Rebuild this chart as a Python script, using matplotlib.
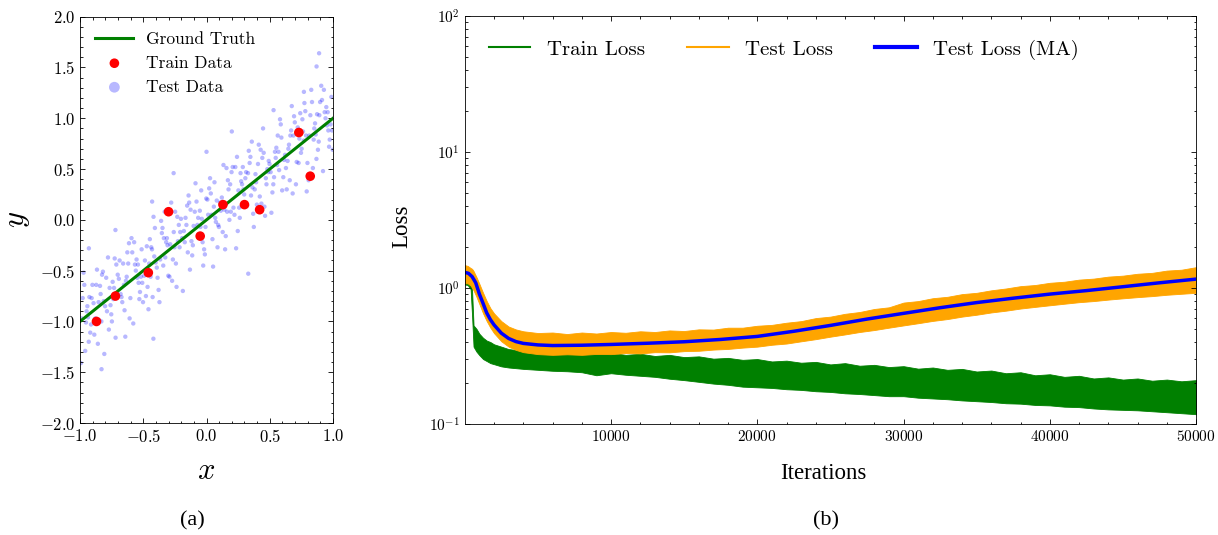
import matplotlib
matplotlib.use("Agg")
import matplotlib.pyplot as plt
from matplotlib.ticker import MultipleLocator

plt.rcParams.update({
    "font.family": "serif",
    "font.serif": ["cmr10"],
    "mathtext.fontset": "cm",
    "axes.formatter.use_mathtext": True,
    "axes.unicode_minus": True,
    "axes.linewidth": 0.6,
    "xtick.direction": "in", "ytick.direction": "in",
    "xtick.top": True, "ytick.right": True,
    "xtick.minor.visible": True, "ytick.minor.visible": True,
    "xtick.major.size": 3.5, "ytick.major.size": 3.5,
    "xtick.minor.size": 1.8, "ytick.minor.size": 1.8,
    "xtick.major.width": 0.6, "ytick.major.width": 0.6,
    "xtick.minor.width": 0.6, "ytick.minor.width": 0.6,
    "legend.frameon": False,
})

# ---- panel (a): regression data ----
train_x = [-0.87, -0.72, -0.46, -0.30, -0.05, 0.13, 0.30, 0.42, 0.73, 0.82]
train_y = [-1.00, -0.75, -0.52, 0.08, -0.16, 0.15, 0.15, 0.10, 0.86, 0.43]

truth_x = [-1.0, 1.0]
truth_y = [-1.0, 1.0]

test_x = [
    -0.993, -0.948, -0.979, -0.913, -0.966, -0.931, -0.987, -0.908, -0.953, -0.972, -0.919, -0.942, -0.959, -0.902, -0.937, -0.926,
    -0.837, -0.887, -0.802, -0.866, -0.848, -0.893, -0.826, -0.859, -0.813, -0.879, -0.842, -0.808, -0.872, -0.831, -0.853, -0.819,
    -0.759, -0.713, -0.772, -0.742, -0.708, -0.779, -0.753, -0.731, -0.793, -0.719, -0.766, -0.787, -0.726, -0.748, -0.702, -0.737,
    -0.693, -0.648, -0.679, -0.613, -0.666, -0.631, -0.687, -0.608, -0.653, -0.672, -0.619, -0.642, -0.659, -0.602, -0.637, -0.626,
    -0.537, -0.587, -0.502, -0.566, -0.548, -0.593, -0.526, -0.559, -0.513, -0.579, -0.542, -0.508, -0.572, -0.531, -0.553, -0.519,
    -0.459, -0.413, -0.472, -0.442, -0.408, -0.479, -0.453, -0.431, -0.493, -0.419, -0.466, -0.487, -0.426, -0.448, -0.402, -0.437,
    -0.393, -0.348, -0.379, -0.313, -0.366, -0.331, -0.387, -0.308, -0.353, -0.372, -0.319, -0.342, -0.359, -0.302, -0.337, -0.326,
    -0.237, -0.287, -0.202, -0.266, -0.248, -0.293, -0.226, -0.259, -0.213, -0.279, -0.242, -0.208, -0.272, -0.231, -0.253, -0.219,
    -0.159, -0.113, -0.172, -0.142, -0.108, -0.179, -0.153, -0.131, -0.193, -0.119, -0.166, -0.187, -0.126, -0.148, -0.102, -0.137,
    -0.093, -0.048, -0.079, -0.013, -0.066, -0.031, -0.087, -0.008, -0.053, -0.072, -0.019, -0.042, -0.059, -0.002, -0.037, -0.026,
    0.063, 0.013, 0.098, 0.034, 0.052, 0.007, 0.074, 0.041, 0.087, 0.021, 0.058, 0.092, 0.028, 0.069, 0.047, 0.081,
    0.141, 0.187, 0.128, 0.158, 0.192, 0.121, 0.147, 0.169, 0.107, 0.181, 0.134, 0.113, 0.174, 0.152, 0.198, 0.163,
    0.207, 0.252, 0.221, 0.287, 0.234, 0.269, 0.213, 0.292, 0.247, 0.228, 0.281, 0.258, 0.241, 0.298, 0.263, 0.274,
    0.363, 0.313, 0.398, 0.334, 0.352, 0.307, 0.374, 0.341, 0.387, 0.321, 0.358, 0.392, 0.328, 0.369, 0.347, 0.381,
    0.441, 0.487, 0.428, 0.458, 0.492, 0.421, 0.447, 0.469, 0.407, 0.481, 0.434, 0.413, 0.474, 0.452, 0.498, 0.463,
    0.507, 0.552, 0.521, 0.587, 0.534, 0.569, 0.513, 0.592, 0.547, 0.528, 0.581, 0.558, 0.541, 0.598, 0.563, 0.574,
    0.663, 0.613, 0.698, 0.634, 0.652, 0.607, 0.674, 0.641, 0.687, 0.621, 0.658, 0.692, 0.628, 0.669, 0.647, 0.681,
    0.741, 0.787, 0.728, 0.758, 0.792, 0.721, 0.747, 0.769, 0.707, 0.781, 0.734, 0.713, 0.774, 0.752, 0.798, 0.763,
    0.807, 0.852, 0.821, 0.887, 0.834, 0.869, 0.813, 0.892, 0.847, 0.828, 0.881, 0.858, 0.841, 0.898, 0.863, 0.874,
    0.963, 0.913, 0.998, 0.934, 0.952, 0.907, 0.974, 0.941, 0.987, 0.921, 0.958, 0.992, 0.928, 0.969, 0.947, 0.981,
    -0.83, 0.33, -0.42, 0.89, 0.00, -0.26, -0.43, -0.93, -0.72, 0.20, 0.53, 0.77, 0.87,
]
test_y = [
    -1.41, -0.90, -0.77, -1.03, -0.64, -1.20, -0.97, -0.77, -1.01, -0.52, -1.11, -0.85, -1.29, -0.64, -0.96, -0.76,
    -0.73, -1.13, -0.85, -0.49, -0.99, -0.82, -0.54, -1.22, -0.80, -0.97, -0.65, -1.32, -0.64, -1.00, -0.81, -0.51,
    -0.84, -0.44, -1.08, -0.61, -0.73, -0.37, -0.93, -0.67, -0.57, -1.16, -0.67, -0.90, -0.38, -1.00, -0.54, -0.78,
    -0.58, -0.89, -0.73, -0.23, -0.81, -0.56, -0.40, -0.97, -0.64, -0.76, -0.43, -1.15, -0.43, -0.77, -0.60, -0.32,
    -0.62, -0.32, -0.81, -0.44, -0.57, -0.18, -0.71, -0.50, -0.29, -1.02, -0.44, -0.62, -0.22, -0.78, -0.39, -0.56,
    -0.88, -0.36, -0.26, -0.56, -0.08, -0.75, -0.43, -0.29, -0.55, 0.03, -0.66, -0.40, -0.76, -0.19, -0.42, -0.27,
    -0.47, -0.08, -0.69, -0.18, -0.39, 0.08, -0.57, -0.25, -0.13, -0.81, -0.22, -0.45, -0.01, -0.55, -0.18, -0.37,
    -0.66, -0.24, 0.01, -0.39, 0.08, -0.56, -0.21, -0.12, -0.27, 0.17, -0.43, -0.12, -0.60, 0.03, -0.27, -0.05,
    -0.05, -0.35, -0.22, 0.24, -0.25, -0.11, 0.14, -0.49, -0.18, -0.21, 0.02, -0.70, 0.10, -0.32, -0.06, 0.17,
    0.08, -0.07, 0.18, -0.34, 0.02, -0.22, 0.36, -0.07, 0.09, -0.05, -0.29, 0.29, -0.18, 0.21, 0.01, -0.45,
    0.37, 0.05, -0.07, 0.26, -0.46, 0.20, -0.02, 0.05, -0.27, 0.31, 0.13, -0.05, 0.41, 0.02, -0.19, 0.19,
    0.10, 0.35, -0.12, 0.51, 0.08, 0.22, -0.29, 0.39, 0.17, 0.00, 0.54, 0.09, 0.30, -0.16, 0.47, 0.08,
    0.52, 0.29, 0.05, 0.52, -0.28, 0.46, 0.12, 0.30, -0.11, 0.52, 0.35, 0.12, 0.62, 0.25, 0.02, 0.38,
    0.32, 0.47, 0.15, 0.68, 0.24, 0.41, -0.07, 0.56, 0.45, 0.14, 0.77, 0.37, 0.46, 0.06, 0.62, 0.30,
    0.61, 0.47, 0.69, 0.13, 0.58, 0.23, 0.90, 0.41, 0.55, 0.50, 0.16, 0.74, 0.35, 0.66, 0.55, 0.04,
    0.47, 0.71, 0.27, 0.94, 0.42, 0.67, 0.07, 0.81, 0.61, 0.35, 0.99, 0.54, 0.67, 0.29, 0.83, 0.49,
    0.83, 0.59, 0.96, 0.30, 0.74, 0.42, 1.12, 0.58, 0.83, 0.64, 0.39, 1.02, 0.51, 0.88, 0.70, 0.26,
    1.05, 0.83, 0.56, 0.99, 0.28, 0.91, 0.66, 0.78, 0.35, 1.07, 0.80, 0.57, 1.15, 0.70, 0.56, 0.87,
    0.39, 0.90, 1.03, 0.77, 1.16, 0.60, 0.83, 1.03, 0.79, 1.28, 0.69, 0.95, 0.51, 1.16, 0.84, 1.04,
    0.88, 1.18, 0.69, 1.06, 0.93, 1.32, 0.79, 1.00, 1.21, 0.48, 1.06, 0.88, 1.28, 0.72, 1.11, 0.94,
    -1.47, -0.53, -1.17, 1.64, 0.67, 0.46, 0.18, -0.28, -0.10, 0.87, 1.08, 1.26, 1.51,
]

# ---- panel (b): loss curves (envelopes of the noisy curves) ----
env_iter = [0, 200, 400, 500, 600, 800, 1000, 1250, 1500, 1750, 2000, 2500, 3000, 3500, 4000,
            5000, 6000, 7000, 8000, 9000, 10000, 11000, 12000, 13000, 14000, 15000, 16000, 17000,
            18000, 19000, 20000, 21000, 22000, 23000, 24000, 25000, 26000, 27000, 28000, 29000,
            30000, 31000, 32000, 33000, 34000, 35000, 36000, 37000, 38000, 39000, 40000, 41000,
            42000, 43000, 44000, 45000, 46000, 47000, 48000, 49000, 50000]
train_low = [1.06, 1.05, 0.98, 0.62, 0.37, 0.34, 0.32, 0.30, 0.29, 0.28, 0.275, 0.265, 0.26, 0.257, 0.254,
             0.250, 0.246, 0.244, 0.240, 0.228, 0.236, 0.230, 0.226, 0.222, 0.215, 0.210, 0.204, 0.198,
             0.194, 0.188, 0.186, 0.184, 0.180, 0.178, 0.174, 0.172, 0.168, 0.166, 0.163, 0.160,
             0.160, 0.156, 0.154, 0.152, 0.149, 0.147, 0.145, 0.142, 0.141, 0.138, 0.137, 0.134,
             0.133, 0.130, 0.128, 0.127, 0.126, 0.124, 0.122, 0.120, 0.118]
train_high = [1.18, 1.16, 1.14, 0.95, 0.53, 0.50, 0.46, 0.43, 0.41, 0.40, 0.385, 0.37, 0.355, 0.35, 0.345,
              0.338, 0.345, 0.332, 0.336, 0.328, 0.334, 0.322, 0.328, 0.316, 0.322, 0.310, 0.314, 0.302,
              0.306, 0.296, 0.300, 0.288, 0.292, 0.282, 0.286, 0.274, 0.280, 0.268, 0.272, 0.262,
              0.266, 0.255, 0.260, 0.250, 0.254, 0.243, 0.247, 0.236, 0.240, 0.228, 0.232, 0.222,
              0.226, 0.216, 0.220, 0.212, 0.216, 0.208, 0.212, 0.206, 0.210]
test_low = [1.08, 1.08, 1.04, 1.00, 0.96, 0.86, 0.76, 0.65, 0.57, 0.51, 0.465, 0.405, 0.37, 0.35, 0.337,
            0.326, 0.322, 0.325, 0.322, 0.327, 0.326, 0.332, 0.330, 0.337, 0.336, 0.343, 0.345, 0.352,
            0.356, 0.364, 0.370, 0.382, 0.390, 0.405, 0.420, 0.438, 0.455, 0.474, 0.490, 0.510,
            0.530, 0.550, 0.572, 0.590, 0.615, 0.635, 0.660, 0.680, 0.705, 0.725, 0.745, 0.765,
            0.785, 0.800, 0.820, 0.838, 0.855, 0.870, 0.890, 0.905, 0.920]
test_high = [1.47, 1.45, 1.40, 1.38, 1.33, 1.20, 1.07, 0.92, 0.80, 0.71, 0.65, 0.57, 0.52, 0.495, 0.48,
             0.466, 0.470, 0.458, 0.470, 0.462, 0.474, 0.468, 0.480, 0.474, 0.487, 0.482, 0.496, 0.494,
             0.510, 0.510, 0.527, 0.535, 0.555, 0.570, 0.600, 0.615, 0.645, 0.665, 0.700, 0.720,
             0.780, 0.800, 0.840, 0.860, 0.900, 0.920, 0.960, 0.990, 1.030, 1.050, 1.090, 1.110,
             1.150, 1.170, 1.210, 1.230, 1.270, 1.290, 1.340, 1.360, 1.420]

ma_iter = [0, 250, 500, 750, 1000, 1250, 1500, 1750, 2000, 2500, 3000, 3500, 4000, 5000, 6000, 8000,
           10000, 12500, 15000, 17500, 20000, 22500, 25000, 27500, 30000, 32500, 35000, 37500,
           40000, 42500, 45000, 47500, 50000]
ma_loss = [1.30, 1.28, 1.21, 1.09, 0.90, 0.77, 0.655, 0.585, 0.535, 0.465, 0.425, 0.403, 0.391, 0.381,
           0.377, 0.379, 0.384, 0.392, 0.402, 0.418, 0.440, 0.480, 0.530, 0.590, 0.650, 0.715, 0.780,
           0.840, 0.900, 0.955, 1.020, 1.090, 1.160]

fig = plt.figure(figsize=(12.18, 5.35), dpi=100)
ax1 = fig.add_axes([0.0657, 0.2093, 0.2077, 0.7595])
ax2 = fig.add_axes([0.3816, 0.2075, 0.6004, 0.7632])

# (a)
sc_test = ax1.scatter(test_x, test_y, s=10, color="blue", alpha=0.28, edgecolors="none", zorder=1)
ln_truth, = ax1.plot(truth_x, truth_y, color="green", lw=2.2, zorder=2)
sc_train = ax1.scatter(train_x, train_y, s=48, color="red", edgecolors="none", zorder=3)
ax1.set_xlim(-1, 1)
ax1.set_ylim(-2, 2)
ax1.xaxis.set_major_locator(MultipleLocator(0.5))
ax1.xaxis.set_minor_locator(MultipleLocator(0.1))
ax1.yaxis.set_major_locator(MultipleLocator(0.5))
ax1.yaxis.set_minor_locator(MultipleLocator(0.1))
ax1.tick_params(labelsize=12)
ax1.set_xlabel("$x$", fontsize=22)
ax1.xaxis.set_label_coords(0.5, -0.085)
ax1.set_ylabel("$y$", fontsize=22)
ax1.yaxis.set_label_coords(-0.19, 0.5)
leg1 = ax1.legend([ln_truth, sc_train, sc_test], ["Ground Truth", "Train Data", "Test Data"],
                  loc="upper left", fontsize=12.5, handlelength=2.2, handletextpad=0.7,
                  labelspacing=0.5, borderaxespad=0.45, bbox_to_anchor=(0.002, 1.0))
leg1.legend_handles[1].set_sizes([48])
leg1.legend_handles[2].set_sizes([60])

# (b)
ax2.fill_between(env_iter, train_low, train_high, color="green", lw=0.6)
ax2.fill_between(env_iter, test_low, test_high, color="orange", lw=0.6)
ax2.plot(ma_iter, ma_loss, color="blue", lw=2.5)
h_train, = ax2.plot([], [], color="green", lw=1.5, label="Train Loss")
h_test, = ax2.plot([], [], color="orange", lw=1.5, label="Test Loss")
h_ma, = ax2.plot([], [], color="blue", lw=3, label="Test Loss (MA)")
ax2.set_yscale("log")
ax2.set_ylim(0.1, 100)
ax2.set_xlim(1, 50000)
ax2.xaxis.set_major_locator(MultipleLocator(10000))
ax2.xaxis.set_minor_locator(MultipleLocator(2000))
ax2.tick_params(labelsize=11)
ax2.set_xlabel("Iterations", fontsize=16.5, family="Liberation Serif")
ax2.xaxis.set_label_coords(0.49, -0.095)
ax2.set_ylabel("Loss", fontsize=16.5, family="Liberation Serif")
ax2.yaxis.set_label_coords(-0.072, 0.485)
ax2.legend(handles=[h_train, h_test, h_ma], loc="upper left", ncol=3, fontsize=15,
           handlelength=2.0, columnspacing=2.0, borderaxespad=0.75)

fig.text(0.1576, 0.026, "(a)", fontsize=16, family="Liberation Serif", ha="center", va="center")
fig.text(0.678, 0.026, "(b)", fontsize=16, family="Liberation Serif", ha="center", va="center")

fig.savefig("out.png", dpi=100)
